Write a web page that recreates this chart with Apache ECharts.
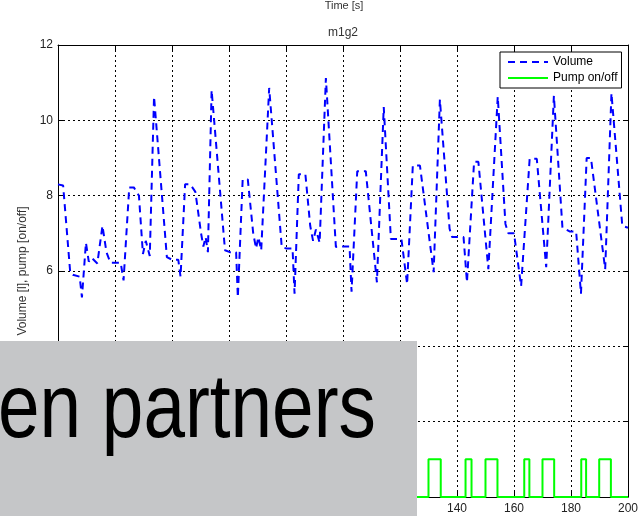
<!DOCTYPE html>
<html>
<head>
<meta charset="utf-8">
<script src="https://cdn.jsdelivr.net/npm/echarts@6/dist/echarts.min.js"></script>
<style>
  html, body { margin: 0; padding: 0; background: #fff; }
  #chart { width: 641px; height: 516px; }
</style>
</head>
<body>
<div id="chart"></div>
<script>
  // volume trace (time in s, volume in l)
  const volTime = [0, 1.8, 4.3, 5.2, 7.6, 8.4, 9.8, 10.8, 11.8, 13.8, 15.6, 17, 18.4, 22, 23, 25, 26.6, 28.4, 29.8, 30.8, 32.2, 33.7,
    38.2, 40, 42.2, 43, 44.6, 46.4, 48.2, 50.2, 51, 51.8, 52.6, 53.9,
    58.6, 60.3, 62.5, 63.1, 64.8, 66.6, 68.5, 69.5, 70.3, 71.3, 74.1,
    78.5, 80, 82.3, 83, 84.5, 86.8, 88.5, 89.5, 90.5, 91.8, 94,
    97.5, 100, 102.3, 103, 105, 108, 111.9, 114.3,
    116.8, 118, 120.5, 122.5, 124.5, 127, 131.8, 134,
    137.4, 138.3, 142.3, 143.5, 146, 147.5, 151, 154.3,
    157, 158, 160, 162.5, 165.5, 168, 171.3, 174,
    177, 179.5, 181.8, 183.5, 185.5, 187, 192, 194.2, 198, 200];
  const volValue = [8.3, 8.27, 5.95, 5.9, 5.85, 5.3, 6.75, 6.25, 6.35, 6.2, 7.2, 6.5, 6.22, 6.22, 5.75, 8.22, 8.22, 8.0, 6.45, 6.8, 6.4, 10.63,
    6.37, 6.3, 6.3, 5.85, 8.3, 8.3, 8.1, 7.0, 6.65, 6.9, 6.5, 10.8,
    6.55, 6.5, 6.5, 5.3, 8.43, 8.43, 7.0, 6.6, 6.9, 6.55, 10.86,
    6.64, 6.6, 6.6, 5.4, 8.57, 8.57, 7.2, 6.8, 7.1, 6.75, 11.12,
    6.64, 6.65, 6.65, 5.45, 8.65, 8.65, 5.7, 10.35,
    6.85, 6.85, 6.85, 5.65, 8.8, 8.8, 5.97, 10.55,
    7.12, 6.9, 6.9, 5.7, 8.9, 8.9, 6.05, 10.63,
    7.25, 7.0, 7.0, 5.6, 8.98, 8.98, 6.1, 10.65,
    7.15, 7.05, 7.05, 5.4, 9.0, 9.0, 6.05, 10.72, 7.2, 7.15];
  // pump on intervals [start, end] in s (before 125 s hidden by the box, estimated)
  const pumpOn = [[10, 14], [23.5, 25.3], [30, 34], [43.5, 45.3], [50, 54], [63.5, 65.3], [70, 74],
    [83.5, 85.3], [90, 94], [103.5, 105.3], [110, 114], [123.5, 125.3],
    [130, 134.3], [143, 145.1], [150, 154.2], [163.6, 165.4], [170, 174.1], [183.6, 185.3], [189.9, 194]];

  const font = 'Liberation Sans, Arial, Helvetica, sans-serif';

  let volData = volTime.map((t, i) => [t, volValue[i]]);
  let pumpData = [[0, 0]];
  pumpOn.forEach(p => {
    pumpData.push([p[0], 0], [p[0], 1], [p[1], 1], [p[1], 0]);
  });
  pumpData.push([200, 0]);

  function axisBase(pos) {
    return {
      type: 'value',
      position: pos,
      axisLine: { show: true, onZero: false, lineStyle: { color: '#000', width: 1 } },
      axisTick: { show: true, inside: true, length: 5, lineStyle: { color: '#000', width: 1 } },
      splitLine: { show: false }
    };
  }

  let xBottom = Object.assign(axisBase('bottom'), {
    min: 0, max: 200, interval: 20,
    axisLabel: { margin: 6, color: '#222', fontSize: 12, fontFamily: font },
    splitLine: { show: true, lineStyle: { color: '#000', width: 1, type: [2, 3] } }
  });
  let xTop = Object.assign(axisBase('top'), { min: 0, max: 200, interval: 20, axisLabel: { show: false } });
  let yLeft = Object.assign(axisBase('left'), {
    min: 0, max: 12, interval: 2,
    name: 'Volume [l], pump [on/off]',
    nameLocation: 'middle',
    nameGap: 20,
    nameTextStyle: { color: '#333', fontSize: 12, fontFamily: font },
    axisLabel: { margin: 5, color: '#222', fontSize: 12, fontFamily: font },
    splitLine: { show: true, lineStyle: { color: '#000', width: 1, type: [2, 3] } }
  });
  let yRight = Object.assign(axisBase('right'), { min: 0, max: 12, interval: 2, axisLabel: { show: false } });

  let chart = echarts.init(document.getElementById('chart'));
  chart.setOption({
    animation: false,
    backgroundColor: '#fff',
    title: {
      text: 'm1g2',
      left: 328,
      top: 27,
      padding: 0,
      textStyle: { fontSize: 12, fontWeight: 'normal', color: '#333', fontFamily: font }
    },
    grid: { left: 58, right: 11, top: 45, bottom: 19 },
    legend: {
      data: ['Volume', 'Pump on/off'],
      orient: 'vertical',
      left: 500,
      top: 52,
      itemWidth: 40,
      itemHeight: 12,
      itemGap: 4,
      padding: [4, 4, 4, 7],
      borderColor: '#000',
      borderWidth: 1,
      backgroundColor: '#fff',
      borderRadius: 0,
      itemStyle: { opacity: 0 },
      textStyle: { fontSize: 12, color: '#000', fontFamily: font }
    },
    xAxis: [xBottom, xTop],
    yAxis: [yLeft, yRight],
    series: [
      {
        name: 'Volume',
        type: 'line',
        data: volData,
        symbol: 'none',
        lineStyle: { color: '#0000ff', width: 2, type: [7, 5] },
        itemStyle: { color: '#0000ff' }
      },
      {
        name: 'Pump on/off',
        type: 'line',
        data: pumpData,
        symbol: 'none',
        lineStyle: { color: '#00ff00', width: 2 },
        itemStyle: { color: '#00ff00' }
      }
    ],
    graphic: [
      {
        type: 'text',
        z: 100,
        style: { text: 'Time [s]', x: 344, y: 6, fill: '#333', font: '11px ' + font, align: 'center', verticalAlign: 'middle' }
      },
      {
        type: 'rect',
        z: 100,
        shape: { x: 0, y: 341, width: 417, height: 175 },
        style: { fill: '#c5c6c8' }
      },
      {
        type: 'text',
        z: 101,
        x: -2,
        y: 0,
        scaleX: 0.83,
        style: { text: 'en partners', x: 0, y: 412, fill: '#000', font: '90px ' + font, align: 'left', verticalAlign: 'middle' }
      }
    ]
  });
</script>
</body>
</html>
